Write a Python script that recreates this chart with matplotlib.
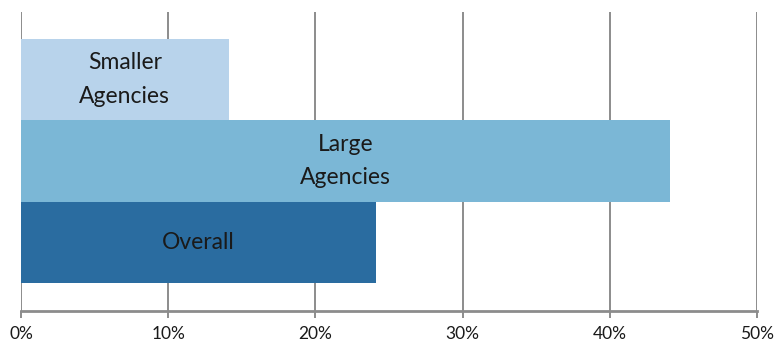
import matplotlib
from matplotlib import pyplot as plt
from matplotlib.ticker import PercentFormatter

matplotlib.rc('font', family=['Lato', 'DejaVu Sans'])

groups = ["Overall", "Large\nAgencies", "Smaller\nAgencies"]
shares = [24.1, 44.1, 14.1]
colors = ["#2a6ca0", "#7bb7d6", "#b8d3eb"]
x_ticks = [0, 10, 20, 30, 40, 50]

fig = plt.figure(figsize=(7.75, 3.45), dpi=100)
ax = fig.add_axes([0.0271, 0.0986, 0.9497, 0.8666])

positions = list(range(len(groups)))
ax.barh(positions, shares, height=1.0, color=colors, zorder=2)

for pos, value, label in zip(positions, shares, groups):
    ax.text(value / 2, pos, label, ha="center", va="center",
            fontsize=16.5, color="#1a1a1a", linespacing=1.75, zorder=3)

ax.set_xlim(0, 50)
ax.set_ylim(-0.844, 2.832)
ax.set_xticks(x_ticks)
ax.xaxis.set_major_formatter(PercentFormatter(decimals=0))
ax.set_yticks([])

ax.grid(axis="x", color="#8c8c8c", linewidth=1.4, zorder=1)
for side in ["top", "right", "left"]:
    ax.spines[side].set_visible(False)
ax.spines["bottom"].set_color("#8c8c8c")
ax.spines["bottom"].set_linewidth(2)
ax.tick_params(axis="x", direction="out", length=5, width=1.4, color="#8c8c8c",
               labelsize=12.5, labelcolor="#1a1a1a", pad=6)

plt.savefig("out.png", format="png")
